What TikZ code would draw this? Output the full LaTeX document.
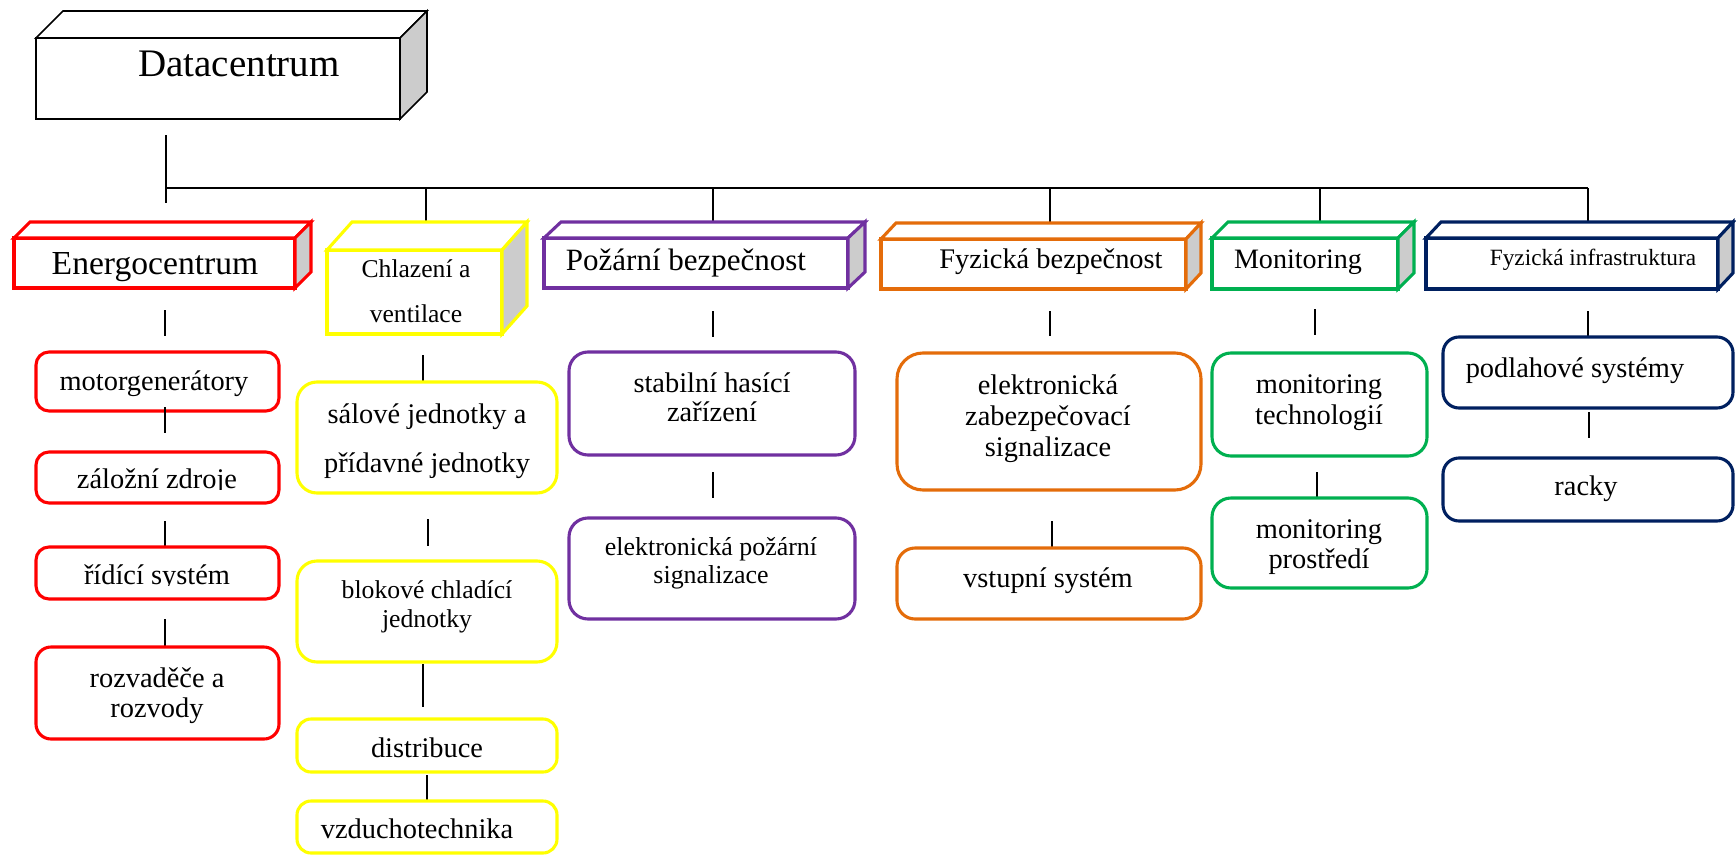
\documentclass[tikz,border=0pt]{standalone}
\usepackage{fontspec}
\setmainfont{Liberation Serif}
\usetikzlibrary{calc}
\definecolor{cRed}{RGB}{255,0,0}
\definecolor{cYel}{RGB}{255,255,0}
\definecolor{cPur}{RGB}{112,48,160}
\definecolor{cOra}{RGB}{228,108,10}
\definecolor{cGrn}{RGB}{0,176,80}
\definecolor{cNav}{RGB}{0,32,96}
\definecolor{cSide}{RGB}{204,204,204}
\newcommand\fs[2]{\fontsize{#1}{#2}\selectfont}
\newcommand\twol[1]{\vtop{\halign{\hfil##\hfil\cr#1\crcr}}}
\tikzset{
  conn/.style={draw=black, line width=1.7pt},
  hdrfront/.style 2 args={draw=#1, line width=#2, fill=white, inner sep=0pt, outer sep=0pt},
  hdrface/.style 2 args={draw=#1, line width=#2, line join=miter, fill=white},
  hdrside/.style 2 args={draw=#1, line width=#2, line join=miter, fill=cSide},
  leaf/.style={draw=#1, line width=3.1pt, fill=white, inner sep=0pt, outer sep=0pt},
  txt/.style={anchor=base, inner sep=0pt, outer sep=0pt, text=black},
}
% name, colour, x1, y1, x2, y2, dx, dy, line width
\newcommand\hdrbox[9]{%
  \node[hdrfront={#2}{#9}, minimum width={#5-#3}, minimum height={#6-#4}] (#1) at ({(#3+#5)/2},{(#4+#6)/2}) {};
  \draw[hdrface={#2}{#9}] (#1.north west) -- ++(#7,-#8) -- ($(#1.north east)+(#7,-#8)$) -- (#1.north east) -- cycle;
  \draw[hdrside={#2}{#9}] (#1.north east) -- ++(#7,-#8) -- ($(#1.south east)+(#7,-#8)$) -- (#1.south east) -- cycle;
}
% name, colour, x1, y1, x2, y2, radius
\newcommand\leafbox[7]{%
  \node[leaf=#2, rounded corners=#7pt, minimum width={#5-#3}, minimum height={#6-#4}] (#1) at ({(#3+#5)/2},{(#4+#6)/2}) {};
}
% name, x, y1, y2
\newcommand\vconn[4]{%
  \coordinate (#1a) at (#2,#3); \coordinate (#1b) at (#2,#4);
  \draw[conn] (#1a) -- (#1b);
}
% name, x, baseline, size, skip, text
\newcommand\lbl[6]{\node[txt, font=\fs{#4}{#5}] (#1) at (#2,#3) {#6};}
\begin{document}
\begin{tikzpicture}[x=1pt,y=-1pt]
\path[use as bounding box, fill=white] (0,0) rectangle (1736,856);

% ---------- connectors of the top level
\vconn{dc}{166}{135}{203}
\coordinate (busL) at (166,188);
\coordinate (busR) at (1588,188);
\draw[conn] (busL) -- (busR);
\vconn{dA}{426}{188}{222}
\vconn{dB}{713}{188}{222}
\vconn{dC}{1050}{188}{222}
\vconn{dD}{1320}{188}{222}
\vconn{dE}{1588}{188}{222}

% ---------- header boxes
\hdrbox{dcbox}{black}{36}{38}{400}{119}{27}{27}{1.7pt}
\hdrbox{energo}{cRed}{14}{238}{295}{288}{16}{16}{3.1pt}
\hdrbox{chlaz}{cYel}{327}{250}{502}{334}{25}{28}{3.1pt}
\hdrbox{pozar}{cPur}{544}{238}{848}{288}{17}{16}{3.1pt}
\hdrbox{fyzb}{cOra}{881}{239}{1186}{289}{15}{16}{3.1pt}
\hdrbox{monit}{cGrn}{1212}{238}{1398}{289}{16}{16}{3.1pt}
\hdrbox{fyzi}{cNav}{1426}{238}{1718}{289}{15}{16}{3.1pt}

\lbl{tdc}{239}{77}{39}{45}{Datacentrum}
\lbl{tenergo}{155}{274}{33.6}{38}{Energocentrum}
\lbl{tchlaz}{416}{277}{25.6}{45}{\twol{Chlazení a\cr ventilace}}
\lbl{tpozar}{686}{270}{31}{36}{Požární bezpečnost}
\lbl{tfyzb}{1051}{268}{28.4}{32}{Fyzická bezpečnost}
\lbl{tmonit}{1298}{268}{28.1}{32}{Monitoring}
\lbl{tfyzi}{1593}{265}{23.3}{28}{Fyzická infrastruktura}

% ---------- connectors below headers
\vconn{e0}{165}{310}{336}
\vconn{c0}{423}{355}{382}
\vconn{p0}{713}{311}{337}
\vconn{o0}{1050}{311}{336}
\vconn{g0}{1315}{309}{335}
\vconn{n0}{1588}{311}{337}

% ---------- red column
\leafbox{motor}{cRed}{36}{352}{279}{411}{13}
\vconn{e1}{165}{407}{433}
\leafbox{zaloz}{cRed}{36}{452}{279}{503}{13}
\vconn{e2}{165}{521}{548}
\leafbox{ridic}{cRed}{36}{547}{279}{599}{13}
\vconn{e3}{165}{619}{646}
\leafbox{rozv}{cRed}{36}{647}{279}{739}{15}

\lbl{tmotor}{154}{390}{28.4}{31}{motorgenerátory}
\begin{scope}
  \clip (36,452) rectangle (279,489);
  \lbl{tzaloz}{157}{488}{28.4}{31}{záložní zdroje}
\end{scope}
\begin{scope}
  \clip (36,547) rectangle (279,585);
  \lbl{tridic}{157}{584}{28.4}{31}{řídící systém}
\end{scope}
\lbl{trozv}{157}{687}{28.4}{30}{\twol{rozvaděče a\cr rozvody}}

% ---------- yellow column
\leafbox{sal}{cYel}{297}{382}{557}{493}{20}
\vconn{c1}{428}{519}{546}
\leafbox{blok}{cYel}{297}{561}{557}{662}{20}
\vconn{c2}{423}{664}{707}
\leafbox{distr}{cYel}{297}{719}{557}{772}{14}
\vconn{c3}{427}{775}{802}
\leafbox{vzd}{cYel}{297}{801}{557}{853}{14}

\lbl{tsal}{427}{423}{28.4}{49}{\twol{sálové jednotky a\cr přídavné jednotky}}
\lbl{tblok}{427}{598}{25.7}{29}{\twol{blokové chladící\cr jednotky}}
\lbl{tdistr}{427}{757}{28.4}{31}{distribuce}
\lbl{tvzd}{417}{838}{28.4}{31}{vzduchotechnika}

% ---------- purple column
\leafbox{stab}{cPur}{569}{352}{855}{455}{19}
\vconn{p1}{713}{472}{498}
\leafbox{epoz}{cPur}{569}{518}{855}{619}{19}

\lbl{tstab}{712}{392}{28.4}{29}{\twol{stabilní hasící\cr zařízení}}
\lbl{tepoz}{711}{555}{25.9}{28}{\twol{elektronická požární\cr signalizace}}

% ---------- orange column
\leafbox{ezab}{cOra}{897}{353}{1201}{490}{26}
\vconn{o1}{1052}{521}{547}
\leafbox{vst}{cOra}{897}{548}{1201}{619}{18}

\lbl{tezab}{1048}{394}{28.4}{31}{\twol{elektronická\cr zabezpečovací\cr signalizace}}
\lbl{tvst}{1048}{587}{28.4}{31}{vstupní systém}

% ---------- green column
\leafbox{mtech}{cGrn}{1212}{353}{1427}{456}{19}
\vconn{g1}{1317}{472}{499}
\leafbox{mpro}{cGrn}{1212}{498}{1427}{588}{19}

\lbl{tmtech}{1319}{393}{28.4}{31}{\twol{monitoring\cr technologií}}
\lbl{tmpro}{1319}{538}{28.4}{30}{\twol{monitoring\cr prostředí}}

% ---------- navy column
\leafbox{podl}{cNav}{1443}{337}{1733}{408}{16}
\vconn{n1}{1589}{412}{438}
\leafbox{racky}{cNav}{1443}{458}{1733}{521}{16}

\lbl{tpodl}{1575}{377}{28.4}{31}{podlahové systémy}
\lbl{tracky}{1586}{495}{28.4}{31}{racky}
\end{tikzpicture}
\end{document}
